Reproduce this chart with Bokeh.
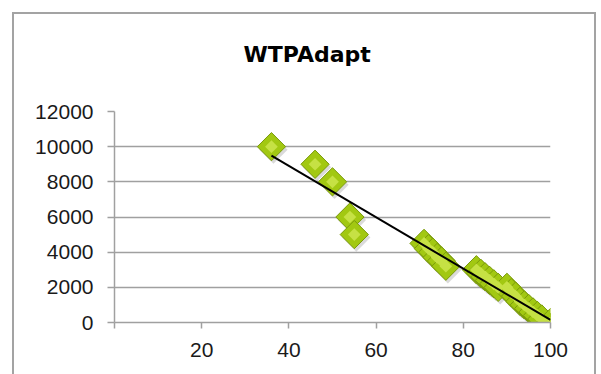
import numpy as np
from bokeh.plotting import figure
from bokeh.models import Range1d, FixedTicker, ColumnDataSource, Title
from bokeh.embed import file_html
from bokeh.resources import INLINE

# Adaptation score vs. willingness to pay
adapt = [36, 46, 50, 54, 55, 71, 72, 73, 74, 75, 76, 83, 84, 85, 86, 87, 88,
         90, 91, 92, 93, 94, 95, 96, 97, 98, 100]
wtp = [10000, 9000, 8000, 6000, 5000, 4500, 4200, 4000, 3700, 3500, 3200,
       3000, 2800, 2600, 2400, 2200, 2000, 2000, 1700, 1500, 1200, 1000,
       800, 600, 400, 200, 0]
x_ticks = [0, 20, 40, 60, 80, 100]
y_ticks = [0, 2000, 4000, 6000, 8000, 10000, 12000]
chart_title = "WTPAdapt"

W, H = 584, 370
p = figure(width=W, height=H, output_backend="svg", toolbar_location=None,
           x_range=Range1d(0, 100), y_range=Range1d(0, 12000),
           min_border_left=100, min_border_right=48,
           min_border_top=97, min_border_bottom=62,
           title=chart_title)
p.styles = {"margin-left": "12px", "margin-top": "12px",
            "border": "2px solid #a3a3a3"}
p.outline_line_color = None
p.background_fill_color = "white"
p.border_fill_color = "white"

# chart title, centred over the whole chart area
p.title.text_font = "DejaVu Sans"
p.title.text_font_style = "bold"
p.title.text_font_size = "22px"
p.title.text_color = "black"
p.title.align = "left"
p.title.offset = 129
p.title.standoff = 10

# blank band between the title and the plotting area
p.add_layout(Title(text=" ", text_font_size="10px", standoff=27), "above")

grey = "#a0a0a0"
tick_font = "Liberation Sans"
for ax in (p.xaxis, p.yaxis):
    ax.axis_line_color = grey
    ax.axis_line_width = 1.5
    ax.major_tick_line_color = grey
    ax.major_tick_line_width = 1.5
    ax.minor_tick_line_color = None
    ax.major_tick_in = 0
    ax.major_label_text_font = tick_font
    ax.major_label_text_font_size = "21px"
    ax.major_label_text_color = "#1a1a1a"
    ax.major_label_standoff = 14

p.xaxis.ticker = FixedTicker(ticks=x_ticks)
p.xaxis.major_tick_out = 6
p.xaxis.major_label_overrides = {0: ""}
p.yaxis.ticker = FixedTicker(ticks=y_ticks)
p.yaxis.major_tick_out = 7

p.xgrid.grid_line_color = None
p.ygrid.grid_line_color = grey
p.ygrid.grid_line_width = 1.5
p.ygrid.ticker = FixedTicker(ticks=y_ticks)

xs = np.array(adapt, dtype=float)
ys = np.array(wtp, dtype=float)

# px per data unit, used to give the markers a small soft drop shadow
px_x = 436 / 100.0
px_y = 211 / 12000.0
shadow = ColumnDataSource(dict(x=xs + 2 / px_x, y=ys - 3 / px_y))
pts = ColumnDataSource(dict(x=xs, y=ys))

p.scatter("x", "y", source=shadow, marker="square", size=20, angle=np.pi / 4,
          fill_color="#555555", fill_alpha=0.22, line_color=None)
p.scatter("x", "y", source=pts, marker="square", size=20, angle=np.pi / 4,
          fill_color="#a2c812", line_color="#7a9a0c", line_width=1)
p.scatter("x", "y", source=pts, marker="square", size=9, angle=np.pi / 4,
          fill_color="#c6e144", line_color=None)

# least-squares linear trendline
slope, intercept = np.polyfit(xs, ys, 1)
tx = np.array([xs.min(), xs.max()])
p.line(tx, intercept + slope * tx, line_color="black", line_width=2)

open("out.html", "w").write(file_html(p, INLINE))
